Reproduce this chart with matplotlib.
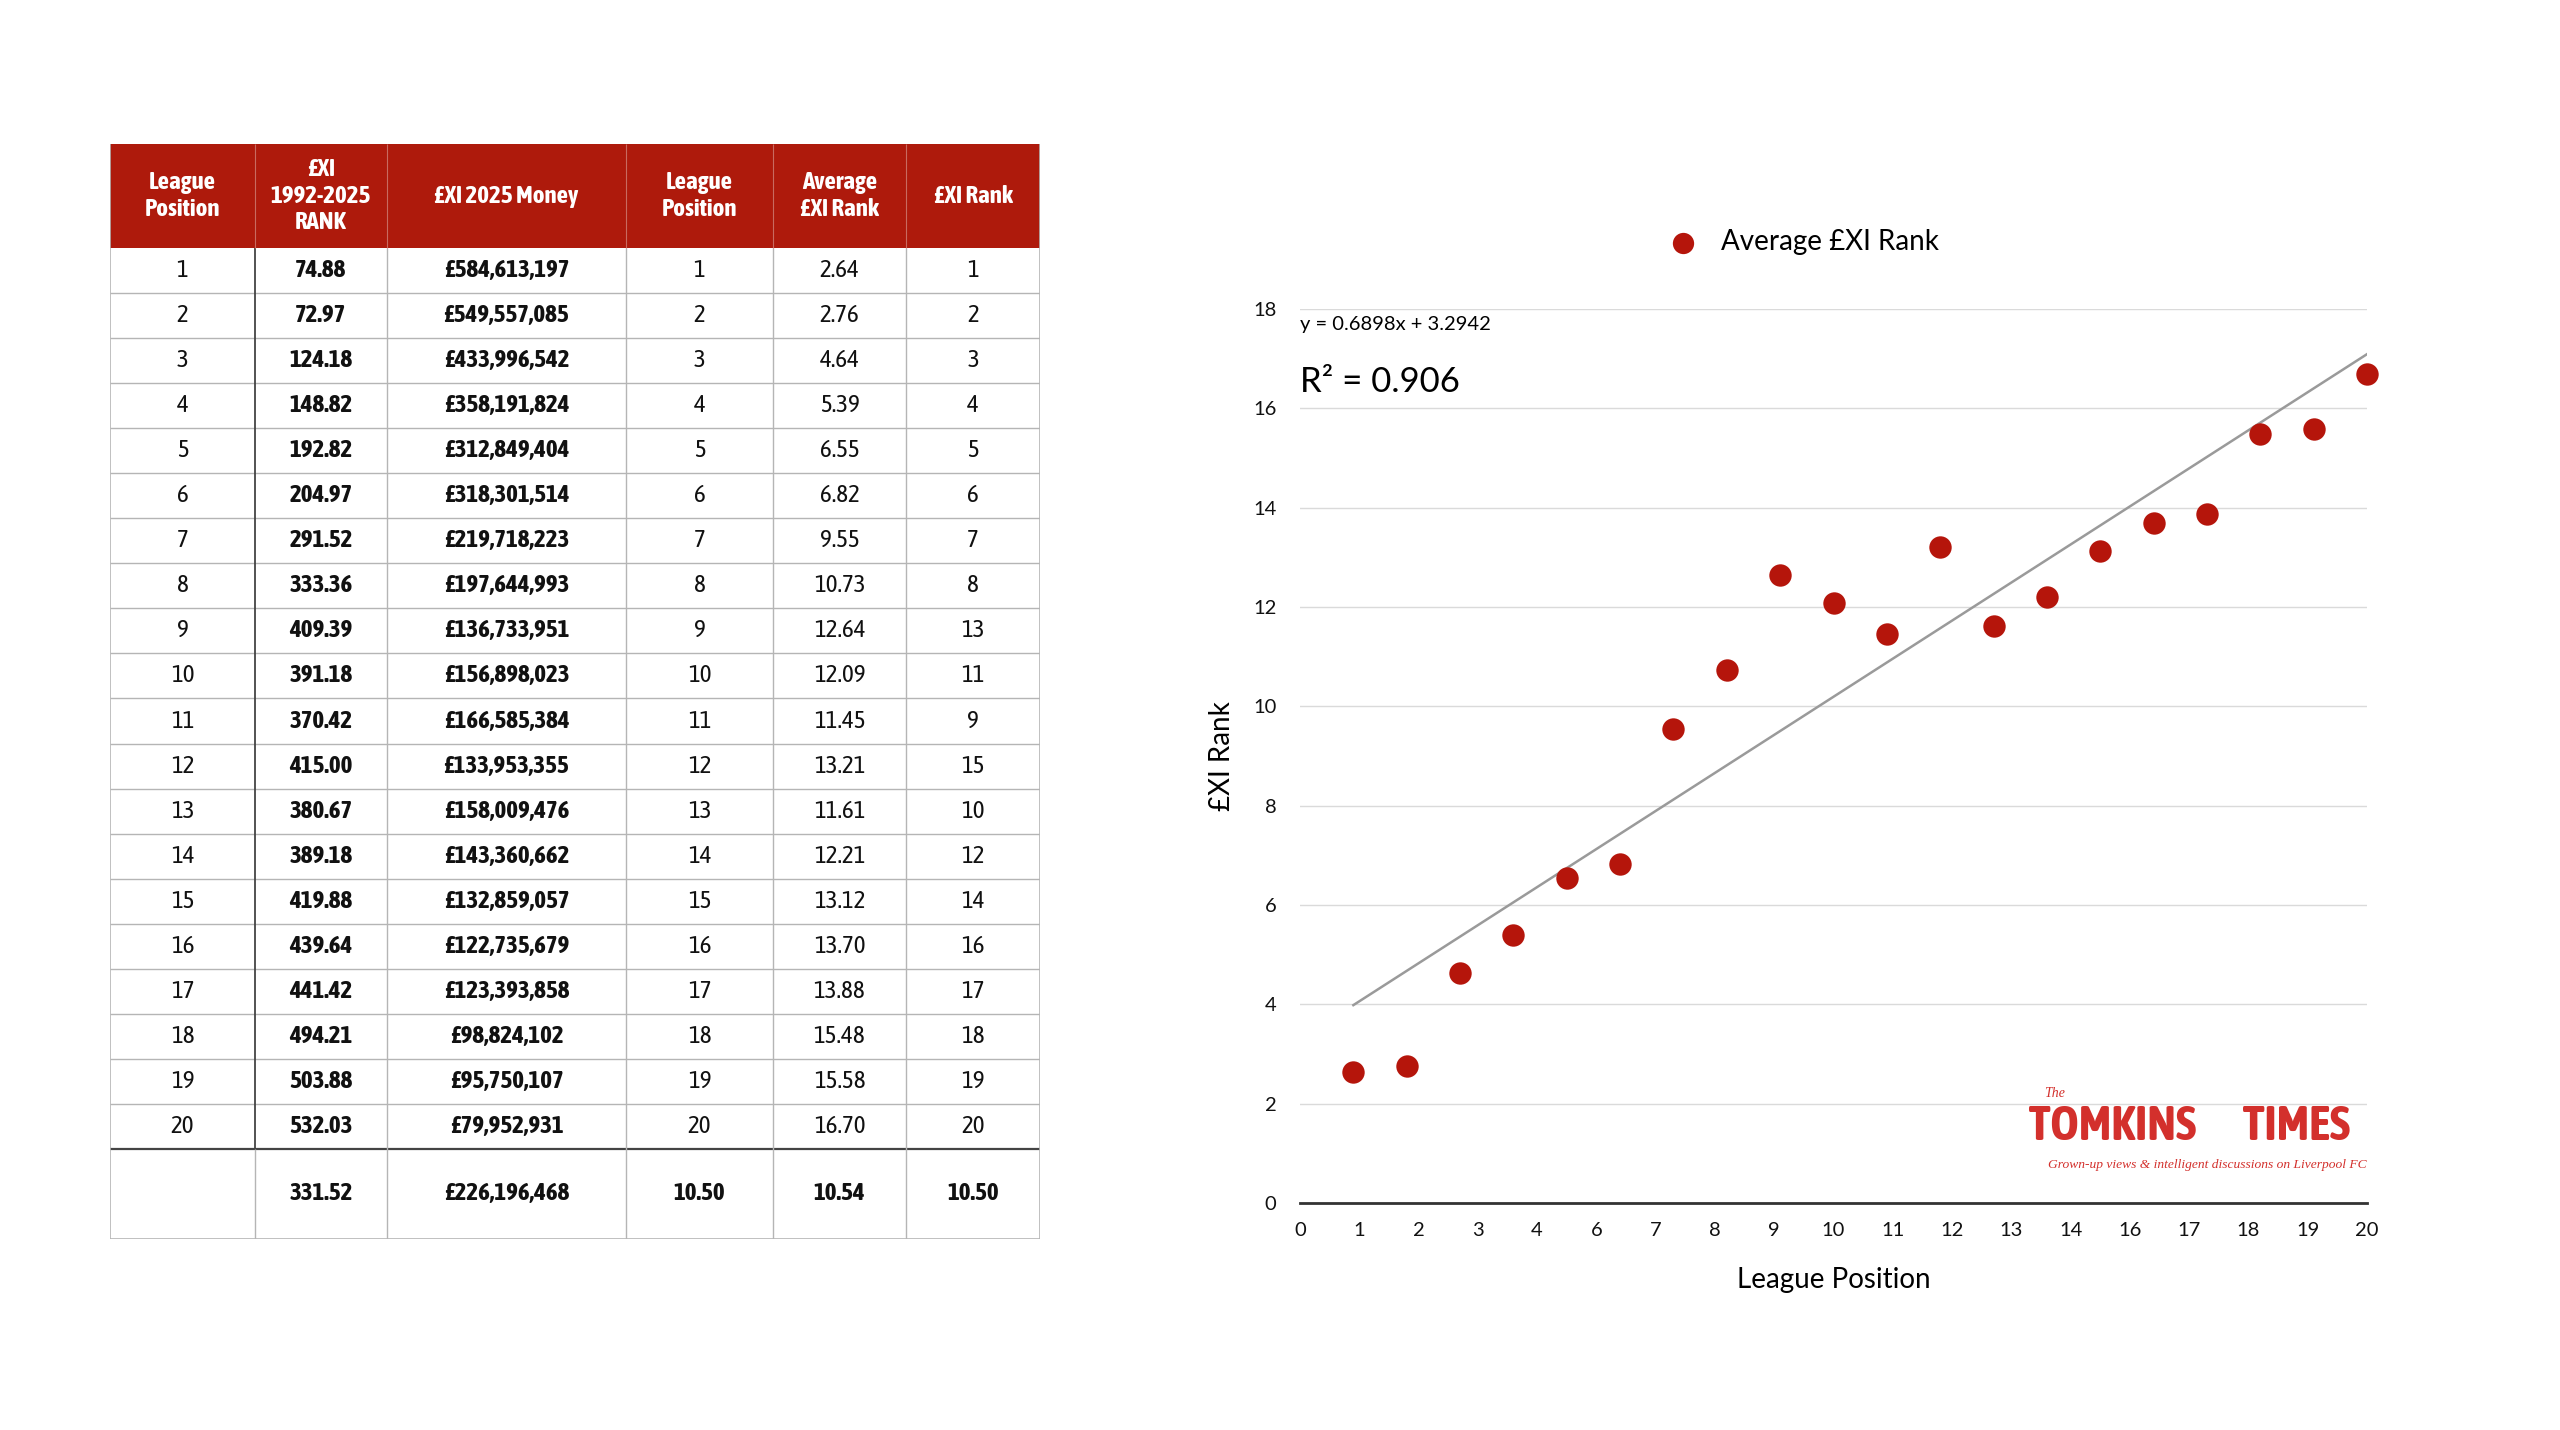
"""League position vs £XI rank: table + scatter with trendline"""

import matplotlib.pyplot as plt
import numpy as np
from matplotlib import font_manager as fm
from matplotlib.patches import Rectangle

plt.rcParams['font.family'] = ['Lato', 'DejaVu Sans']

# ---------- data ----------
league_pos = list(range(1, 21))
rank_1992_2025 = [74.88, 72.97, 124.18, 148.82, 192.82, 204.97, 291.52, 333.36, 409.39, 391.18,
                  370.42, 415.00, 380.67, 389.18, 419.88, 439.64, 441.42, 494.21, 503.88, 532.03]
money_2025 = [584613197, 549557085, 433996542, 358191824, 312849404, 318301514, 219718223,
              197644993, 136733951, 156898023, 166585384, 133953355, 158009476, 143360662,
              132859057, 122735679, 123393858, 98824102, 95750107, 79952931]
avg_rank = [2.64, 2.76, 4.64, 5.39, 6.55, 6.82, 9.55, 10.73, 12.64, 12.09,
            11.45, 13.21, 11.61, 12.21, 13.12, 13.70, 13.88, 15.48, 15.58, 16.70]
xi_rank = [1, 2, 3, 4, 5, 6, 7, 8, 13, 11, 9, 15, 10, 12, 14, 16, 17, 18, 19, 20]
totals = ['', '331.52', '£226,196,468', '10.50', '10.54', '10.50']
headers = ['League\nPosition', '£XI\n1992-2025\nRANK', '£XI 2025 Money',
           'League\nPosition', 'Average\n£XI Rank', '£XI Rank']
x_tick_labels = ['0', '1', '2', '3', '4', '6', '7', '8', '9', '10', '11', '12', '13', '14',
                 '16', '17', '18', '19', '20']

RED = '#AE1A0C'
DOT = '#B5150B'
LOGO = '#D3302C'


# 找一个有粗体的窄体字体（表格原图是 Avenir Next Condensed）
def pick_condensed():
    cands = {}
    for f in fm.fontManager.ttflist:
        name = f.name
        if ('Narrow' in name or 'Condensed' in name) and 'Serif' not in name and 'Mono' not in name:
            w = f.weight if isinstance(f.weight, int) else {'normal': 400, 'regular': 400,
                                                              'bold': 700}.get(str(f.weight).lower(), 0)
            cands.setdefault(name, set()).add(w)
    good = [nm for nm, ws in cands.items() if 400 in ws and any(w >= 700 for w in ws)]
    if good:
        return sorted(good, key=len)[0], 'normal'
    if cands:
        return sorted(cands, key=len)[0], 'normal'
    return 'Roboto', 'normal'


COND, COND_STRETCH = pick_condensed()
cond_kw = dict(family=[COND, 'DejaVu Sans'], fontstretch=COND_STRETCH)

W, H = 2560, 1430
fig = plt.figure(figsize=(W / 100, H / 100), dpi=100)

# ========== table ==========
col_w = [145, 132, 239, 147, 133, 134]
edges = np.concatenate([[0], np.cumsum(col_w)])
header_h = 2.31
total_h = 2.0
n = len(league_pos)
bottom = header_h + n + total_h

tax = fig.add_axes([110 / W, 1 - 1239 / H, edges[-1] / W, 1095 / H])
tax.set_xlim(0, edges[-1])
tax.set_ylim(bottom, 0)
tax.axis('off')

tax.add_patch(Rectangle((0, 0), edges[-1], header_h, color=RED, lw=0))
for j, h in enumerate(headers):
    tax.text((edges[j] + edges[j + 1]) / 2, header_h / 2, h, ha='center', va='center',
             color='white', fontsize=18, fontweight='bold', linespacing=1.2, **cond_kw)

rows = []
for i in range(n):
    rows.append([str(league_pos[i]), f'{rank_1992_2025[i]:.2f}', f'£{money_2025[i]:,}',
                 str(league_pos[i]), f'{avg_rank[i]:.2f}', str(xi_rank[i])])
bold_cols = [1, 2]
for i, row in enumerate(rows):
    yc = header_h + i + 0.5
    for j, val in enumerate(row):
        tax.text((edges[j] + edges[j + 1]) / 2, yc, val, ha='center', va='center',
                 color='#111111', fontsize=18,
                 fontweight='bold' if j in bold_cols else 'normal', **cond_kw)
yc = header_h + n + total_h / 2
for j, val in enumerate(totals):
    tax.text((edges[j] + edges[j + 1]) / 2, yc, val, ha='center', va='center',
             color='#111111', fontsize=18, fontweight='bold', **cond_kw)

grid_c = '#B5B5B5'
tax.hlines([header_h + k for k in range(1, n)], 0, edges[-1], color=grid_c, lw=1)
tax.hlines([bottom], 0, edges[-1], color=grid_c, lw=1.2)
tax.hlines([header_h + n], 0, edges[-1], color='#444444', lw=1.6)
tax.vlines([edges[0], edges[-1]], 0, bottom, color=grid_c, lw=1.2)
tax.vlines(edges[2:-1], header_h, bottom, color=grid_c, lw=1)
tax.vlines(edges[1], header_h, header_h + n, color='#444444', lw=1.3)
tax.vlines(edges[1], header_h + n, bottom, color=grid_c, lw=1)
tax.vlines(edges[1:-1], 0, header_h, color='#C86A60', lw=0.8)

# ========== scatter ==========
ax = fig.add_axes([1300 / W, 1 - 1203 / H, 1067 / W, 894 / H])
ax.scatter(league_pos, avg_rank, s=260, color=DOT, zorder=3, clip_on=False,
           label='Average £XI Rank', linewidths=0)

slope, intercept = np.polyfit(league_pos, avg_rank, 1)
fx = np.array([league_pos[0], league_pos[-1]])
ax.plot(fx, slope * fx + intercept, color='#9A9A9A', lw=1.8, zorder=2)

ax.set_xlim(0, 20)
ax.set_ylim(0, 18)
ax.set_xticks(np.linspace(0, 20, len(x_tick_labels)))
ax.set_xticklabels(x_tick_labels)
ax.set_yticks(range(0, 19, 2))
ax.tick_params(length=0, labelsize=14.5, colors='#111111')
ax.tick_params(axis='x', pad=14)
ax.tick_params(axis='y', pad=17)
ax.grid(axis='y', color='#DADADA', lw=1)
ax.set_axisbelow(True)
for s in ['top', 'right', 'left']:
    ax.spines[s].set_visible(False)
ax.spines['bottom'].set_color('#333333')
ax.spines['bottom'].set_linewidth(2)

ax.set_xlabel('League Position', fontsize=20, labelpad=20)
ax.set_ylabel('£XI Rank', fontsize=20, labelpad=13)

ax.legend(loc='center', bbox_to_anchor=(0.466, 1.075), frameon=False, fontsize=20,
          handletextpad=0.35, markerscale=0.95)

ax.text(0.0, 0.983, 'y = 0.6898x + 3.2942', transform=ax.transAxes, fontsize=14.5,
        va='center', ha='left')
ax.text(0.0, 0.918, 'R² = 0.906', transform=ax.transAxes, fontsize=25, va='center', ha='left')

# logo
ax.text(0.840, 0.086, 'TOMKINS', transform=ax.transAxes, fontsize=35, color=LOGO,
        fontweight='bold', ha='right', va='center', **cond_kw)
ax.text(0.884, 0.086, 'TIMES', transform=ax.transAxes, fontsize=35, color=LOGO,
        fontweight='bold', ha='left', va='center', **cond_kw)
ax.text(0.697, 0.122, 'The', transform=ax.transAxes, fontsize=10, color=LOGO,
        style='italic', family=['Liberation Serif', 'DejaVu Serif'], ha='left', va='center')
ax.text(1.0, 0.042, 'Grown-up views & intelligent discussions on Liverpool FC',
        transform=ax.transAxes, fontsize=9.7, color=LOGO, style='italic',
        family=['Liberation Serif', 'DejaVu Serif'], ha='right', va='center')

plt.savefig('out.png', dpi=100)
